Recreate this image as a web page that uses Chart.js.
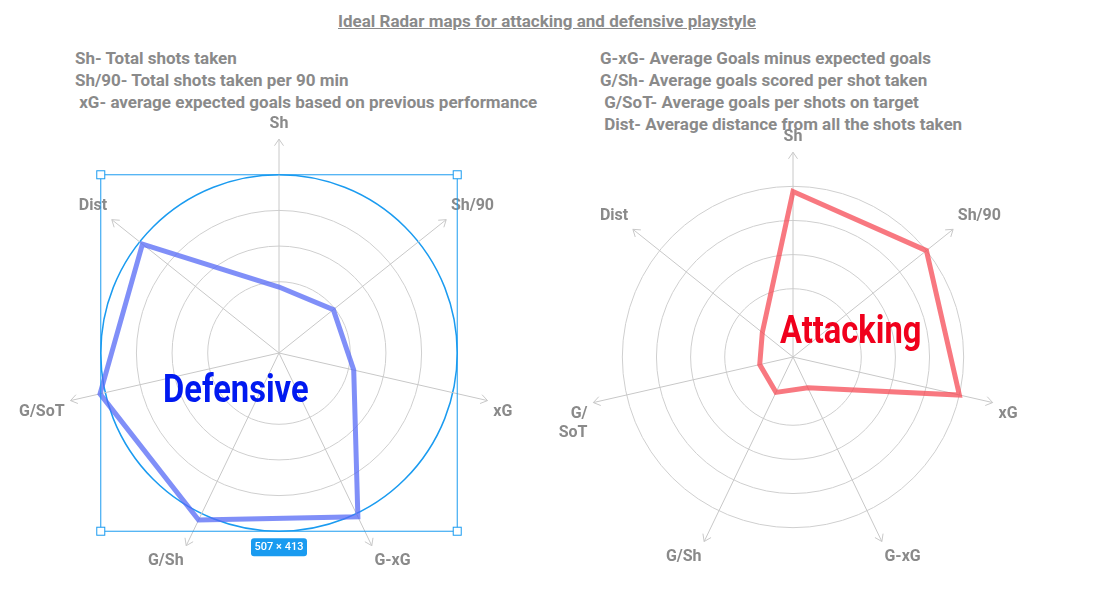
<!DOCTYPE html>
<html><head><meta charset="utf-8">
<script src="https://cdn.jsdelivr.net/npm/chart.js@4"></script>
<style>
body{margin:0;width:1094px;height:603px;background:#fff;position:relative;overflow:hidden;font-family:Roboto,sans-serif;}
.t{position:absolute;color:#8a8a8a;font-weight:700;font-size:17px;white-space:nowrap;}
.big{position:absolute;font-weight:700;font-size:38px;transform:scaleX(0.86);transform-origin:left top;white-space:nowrap;}
.box{position:absolute;}
</style></head><body>
<div class="t" style="left:0;width:1094px;text-align:center;top:11px;text-decoration:underline;">Ideal Radar maps for attacking and defensive playstyle</div>
<div class="t" style="left:75px;top:47px;line-height:22px">Sh- Total shots taken<br>Sh/90- Total shots taken per 90 min<br>&nbsp;xG- average expected goals based on previous performance</div>
<div class="t" style="left:600px;top:47px;line-height:22px">G-xG- Average Goals minus expected goals<br>G/Sh- Average goals scored per shot taken<br>&nbsp;G/SoT- Average goals per shots on target<br>&nbsp;Dist- Average distance from all the shots taken</div>
<div class="box" style="left:6px;top:101px;width:520px;height:480px"><canvas id="c1"></canvas></div>
<div class="box" style="left:548px;top:116px;width:480px;height:460px"><canvas id="c2"></canvas></div>
<div class="big" style="left:163px;top:367px;color:#0019f0">Defensive</div>
<div class="big" style="left:780px;top:308px;color:#f0001c">Attacking</div>
<script>
const categories=["Sh","Sh/90","xG","G-xG","G/Sh","G/SoT","Dist"];
const categoriesRight=["Sh","Sh/90","xG","G-xG","G/Sh",["G/","SoT"],"Dist"];
const defensiveValues=[1.85,1.95,2.15,5.1,5.2,5.15,4.9];
const attackingValues=[4.85,5.0,5.0,1.0,1.15,1.0,1.15];
const scaleMax=6;

const arrows={id:'arrows',afterDatasetsDraw(chart){
  const s=chart.scales.r,ctx=chart.ctx;ctx.save();ctx.strokeStyle='#c8c8c8';ctx.lineWidth=1;
  for(let i=0;i<categories.length;i++){
    const p=s.getPointPosition(i,s.getDistanceFromCenterForValue(scaleMax));
    const a=Math.atan2(p.y-s.yCenter,p.x-s.xCenter);
    ctx.beginPath();
    ctx.moveTo(p.x-8*Math.cos(a-0.6),p.y-8*Math.sin(a-0.6));ctx.lineTo(p.x,p.y);
    ctx.lineTo(p.x-8*Math.cos(a+0.6),p.y-8*Math.sin(a+0.6));ctx.stroke();
  }ctx.restore();}};
const selection={id:'sel',afterDraw(chart){
  const s=chart.scales.r,ctx=chart.ctx,r=s.getDistanceFromCenterForValue(5);
  const x0=s.xCenter-r,x1=s.xCenter+r,y0=s.yCenter-r,y1=s.yCenter+r;
  ctx.save();ctx.strokeStyle='#1a9bf0';ctx.lineWidth=1;ctx.strokeRect(x0,y0,x1-x0,y1-y0);
  ctx.fillStyle='#fff';
  for(const [x,y] of [[x0,y0],[x1,y0],[x0,y1],[x1,y1]]){ctx.fillRect(x-4,y-4,8,8);ctx.strokeRect(x-4,y-4,8,8);}
  ctx.fillStyle='#1a9bf0';const bx=s.xCenter-28,by=y1+7;
  ctx.beginPath();ctx.roundRect(bx,by,56,18,3);ctx.fill();
  ctx.fillStyle='#fff';ctx.font='500 11px Roboto';ctx.textAlign='center';ctx.textBaseline='middle';
  ctx.fillText('507 × 413',s.xCenter,by+9);ctx.restore();}};

function make(id,labels,vals,color,outerColor,plugins){
  return new Chart(document.getElementById(id),{type:'radar',
    data:{labels:labels,datasets:[{data:vals,borderColor:color,borderWidth:5,fill:false,pointRadius:0,borderJoinStyle:'miter'}]},
    options:{responsive:true,maintainAspectRatio:false,animation:false,
      plugins:{legend:{display:false},tooltip:{enabled:false}},
      layout:{padding:0},
      scales:{r:{min:0,max:scaleMax,ticks:{display:false,stepSize:1},
        angleLines:{color:'#c8c8c8'},
        grid:{circular:true,lineWidth:(c)=>c.tick&&c.tick.value===5&&outerColor?1.5:1,
          color:(c)=>{const v=c.tick?c.tick.value:0;if(v===1||v===6)return 'rgba(0,0,0,0)';if(v===5&&outerColor)return outerColor;return '#cfcfcf';}},
        pointLabels:{color:'#8a8a8a',font:{family:'Roboto',size:16,weight:'bold'},padding:6}}}},
    plugins:plugins});
}
make('c1',categories,defensiveValues,'rgba(85,105,245,0.75)','#1a9bf0',[arrows,selection]);
make('c2',categoriesRight,attackingValues,'rgba(245,75,85,0.75)',null,[arrows]);
</script></body></html>
